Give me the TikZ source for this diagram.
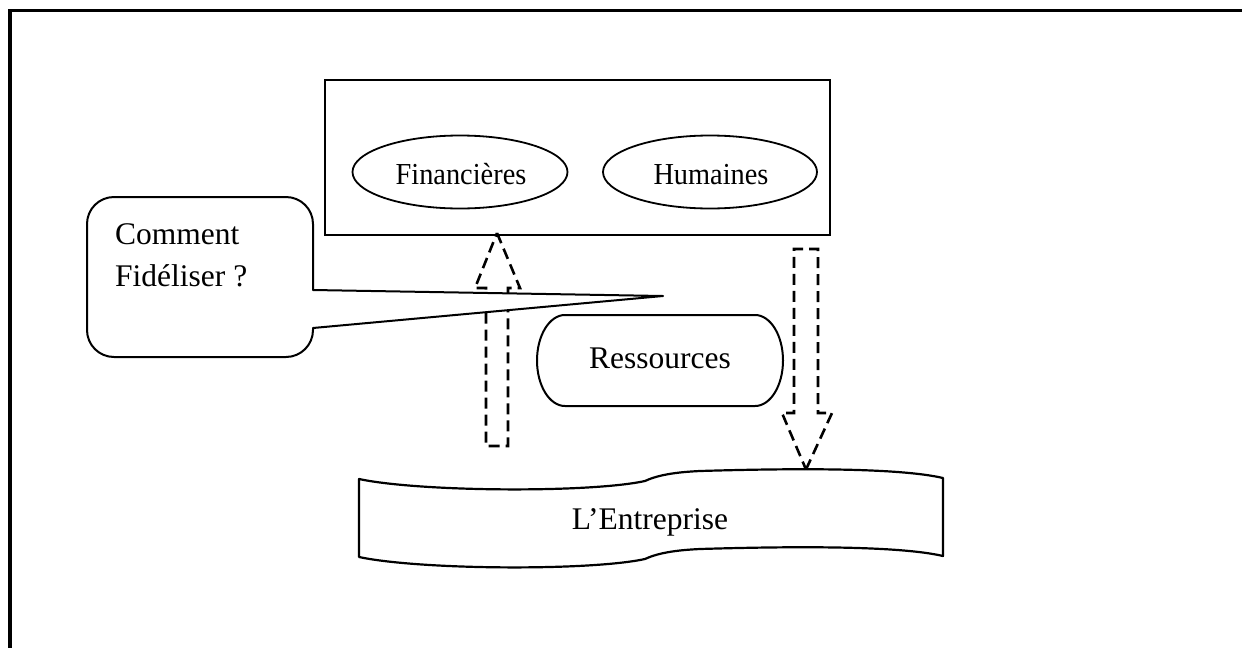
\documentclass[tikz,border=0pt]{standalone}
\usepackage{fontspec}
\setmainfont{Liberation Serif}
\newfontfamily\narrowserif[FakeStretch=0.93]{Liberation Serif}
\usetikzlibrary{shapes.geometric}
\begin{document}
\begin{tikzpicture}[x=1pt,y=1pt,
  lbl/.style={inner sep=0pt,font=\fontsize{31.5}{42}\selectfont},
  narrowlbl/.style={inner sep=0pt,font=\narrowserif\fontsize{30.5}{42}\selectfont},
  oval/.style={ellipse,draw,line width=1.8pt,inner sep=0pt},
  outline/.style={draw,line width=2pt,fill=white,line join=round},
  flowarrow/.style={draw,line width=2.6pt,dash pattern=on 11pt off 6pt,line join=miter}
]
\useasboundingbox (0,0) rectangle (1242,-648);

% page frame (top and left rules)
\draw[line width=3.5pt,line join=miter] (1242,-10.5) -- (10,-10.5) -- (10,-648);

% resources box with its two kinds
\node[draw,line width=1.2pt,minimum width=505pt,minimum height=155pt,inner sep=0pt] (rbox) at (577.5,-157.5) {};
\node[oval,minimum width=215pt,minimum height=73pt] (fin) at (460,-172) {};
\node[oval,minimum width=214pt,minimum height=73pt] (hum) at (710,-172) {};
\node[narrowlbl,anchor=base] (tfin) at (461,-184) {Financières};
\node[narrowlbl,anchor=base] (thum) at (711,-184) {Humaines};

% resources label
\node[lbl,anchor=base] (res) at (660,-368) {Ressources};
\draw[line width=2pt] (565,-315) -- (755,-315)
  arc[start angle=90,end angle=-90,x radius=28,y radius=45.5]
  -- (565,-406)
  arc[start angle=270,end angle=90,x radius=28,y radius=45.5] -- cycle;

% the company
\coordinate (entTop) at (806,-469.5);
\draw[outline,line width=2.2pt] (359,-479)
  .. controls (420,-492) and (590,-493) .. (645,-481)
  .. controls (660,-474) and (680,-472) .. (700,-471)
  .. controls (800,-468) and (900,-468) .. (943,-478)
  -- (943,-556)
  .. controls (900,-546) and (800,-546) .. (700,-549)
  .. controls (680,-550) and (660,-552) .. (645,-559)
  .. controls (590,-571) and (420,-570) .. (359,-557) -- cycle;
\node[lbl,anchor=base] (ent) at (650,-529) {L’Entreprise};

% upward flow: company towards the resources box
\coordinate (upTip) at (497,-233);
\draw[flowarrow] (upTip) -- (520,-288) -- (508,-288) -- (508,-446)
  -- (486,-446) -- (486,-288) -- (475,-288) -- cycle;

% downward flow: resources box towards the company
\draw[flowarrow] (entTop) -- (832,-413) -- (818,-413) -- (818,-249)
  -- (794,-249) -- (794,-413) -- (782,-413) -- cycle;

% question callout
\coordinate (ptip) at (663,-296);
\draw[outline] (313,-290) -- (313,-224)
  arc[start angle=0,end angle=90,radius=27] -- (114,-197)
  arc[start angle=90,end angle=180,radius=27] -- (87,-330)
  arc[start angle=180,end angle=270,radius=27] -- (286,-357)
  arc[start angle=270,end angle=360,radius=27] -- (313,-328)
  -- (ptip) -- cycle;
\node[lbl,anchor=base west,align=left] (fid) at (115,-286) {Comment\\Fidéliser ?};
\end{tikzpicture}
\end{document}
